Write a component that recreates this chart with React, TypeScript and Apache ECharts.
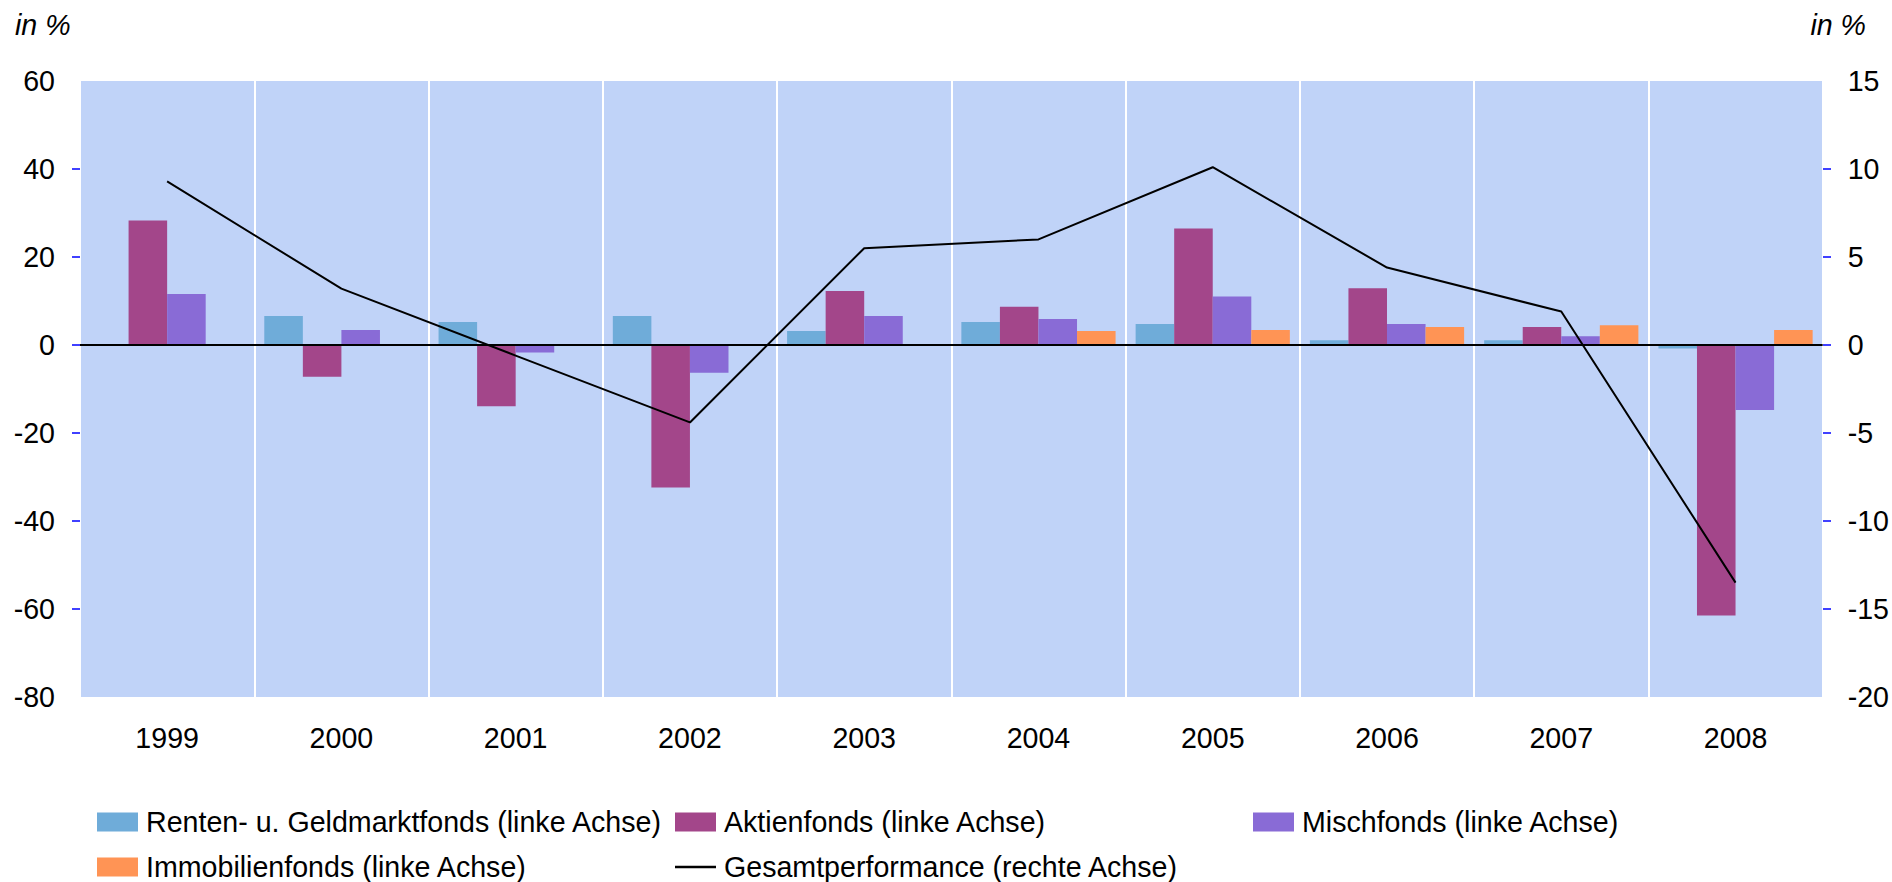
import React, { useEffect, useRef } from "react";
import * as echarts from "echarts";

const categories = ["1999", "2000", "2001", "2002", "2003", "2004", "2005", "2006", "2007", "2008"];
const renten = [null, 6.6, 5.2, 6.6, 3.2, 5.2, 4.8, 1.1, 1.1, -0.8];
const aktien = [28.3, -7.2, -13.9, -32.4, 12.3, 8.7, 26.5, 12.9, 4.1, -61.5];
const misch = [11.6, 3.4, -1.7, -6.3, 6.6, 5.9, 11.0, 4.8, 2.0, -14.8];
const immo = [null, null, null, null, null, 3.2, 3.4, 4.1, 4.5, 3.4];
const gesamt = [9.3, 3.2, -0.6, -4.4, 5.5, 6.0, 10.1, 4.4, 1.9, -13.5];

const names = [
  "Renten- u. Geldmarktfonds (linke Achse)",
  "Aktienfonds (linke Achse)",
  "Mischfonds (linke Achse)",
  "Immobilienfonds (linke Achse)",
  "Gesamtperformance (rechte Achse)",
];
const colors = ["#6FACD9", "#A3468A", "#896BD6", "#FF9455", "#000000"];

const FONT = "'Liberation Sans', Arial, sans-serif";
const FS = 28.6;

// axis ranges
const L_MIN = -80, L_MAX = 60, L_INT = 20;
const R_MIN = -20, R_MAX = 15, R_INT = 5;

export default function App() {
  const ref = useRef<HTMLDivElement>(null);
  useEffect(() => {
    if (!ref.current) return;
    const chart = echarts.init(ref.current, null, { renderer: "svg" });
    const G_TOP = 81, G_BOTTOM = 185, G_LEFT = 80, G_RIGHT = 69;
    const plotH = 882 - G_TOP - G_BOTTOM;
    const step = (plotH * L_INT) / (L_MAX - L_MIN);
    const legendPos = [
      [97, 822],
      [675, 822],
      [1253, 822],
      [97, 867],
      [675, 867],
    ];
    const legends = names.map((n, i) => ({
      show: true,
      data: [n],
      left: legendPos[i][0],
      top: legendPos[i][1] - 15,
      padding: 0,
      itemWidth: 41,
      itemHeight: i === 4 ? 2.5 : 19,
      icon: "rect",
      selectedMode: false,
      textStyle: { fontFamily: FONT, fontSize: FS, color: "#000", lineHeight: 30, padding: [0, 0, 0, 3] },
    }));
    const barSeries = [renten, aktien, misch, immo].map((d, i) => ({
      name: names[i],
      type: "bar",
      xAxisIndex: 0,
      yAxisIndex: 0,
      data: d,
      barGap: "0%",
      barCategoryGap: "11.5%",
      itemStyle: { color: colors[i] },
      ...(i === 0
        ? {
            markLine: {
              silent: true,
              symbol: "none",
              label: { show: false },
              lineStyle: { color: "#000", width: 2, type: "solid" },
              data: [{ yAxis: 0 }],
              z: 10,
            },
          }
        : {}),
    }));
    const tickAxis = (gridIndex: number, min: number, max: number, interval: number, position: string) => ({
      type: "value",
      gridIndex,
      min,
      max,
      interval,
      position,
      axisLine: { show: false },
      axisTick: { show: true, length: 8, lineStyle: { color: "#0000ff", width: 1.5 } },
      axisLabel: { show: false },
      splitLine: { show: false },
    });
    chart.setOption({
      animation: false,
      color: colors,
      textStyle: { fontFamily: FONT },
      grid: [
        {
          left: G_LEFT,
          right: G_RIGHT,
          top: G_TOP,
          bottom: G_BOTTOM,
          show: true,
          backgroundColor: "#C0D3F8",
          borderWidth: 0,
          containLabel: false,
        },
        {
          left: G_LEFT,
          right: G_RIGHT,
          top: G_TOP + step,
          bottom: G_BOTTOM + step,
          show: false,
          containLabel: false,
        },
      ],
      legend: legends,
      graphic: [
        {
          type: "text",
          left: 15,
          top: 10,
          style: { text: "in %", font: `italic ${FS}px ${FONT}`, fill: "#000" },
        },
        {
          type: "text",
          right: 1892 - 1866,
          top: 10,
          style: { text: "in %", font: `italic ${FS}px ${FONT}`, fill: "#000" },
        },
      ],
      xAxis: [
        {
          type: "category",
          gridIndex: 0,
          data: categories,
          boundaryGap: true,
          axisLine: { show: false },
          axisTick: { show: false },
          axisLabel: { color: "#000", fontSize: FS, fontFamily: FONT, margin: 26 },
          splitLine: { show: true, lineStyle: { color: "#ffffff", width: 2 } },
        },
        {
          type: "category",
          gridIndex: 1,
          data: categories,
          show: false,
        },
      ],
      yAxis: [
        {
          type: "value",
          gridIndex: 0,
          min: L_MIN,
          max: L_MAX,
          interval: L_INT,
          position: "left",
          axisLine: { show: false },
          axisTick: { show: false },
          axisLabel: { color: "#000", fontSize: FS, fontFamily: FONT, margin: 25 },
          splitLine: { show: false },
        },
        {
          type: "value",
          gridIndex: 0,
          min: R_MIN,
          max: R_MAX,
          interval: R_INT,
          position: "right",
          axisLine: { show: false },
          axisTick: { show: false },
          axisLabel: { color: "#000", fontSize: FS, fontFamily: FONT, margin: 25 },
          splitLine: { show: false },
        },
        tickAxis(1, L_MIN + L_INT, L_MAX - L_INT, L_INT, "left"),
        tickAxis(1, R_MIN + R_INT, R_MAX - R_INT, R_INT, "right"),
      ],
      series: [
        ...barSeries,
        {
          name: names[4],
          type: "line",
          xAxisIndex: 0,
          yAxisIndex: 1,
          data: gesamt,
          symbol: "none",
          showSymbol: false,
          z: 12,
          lineStyle: { color: "#000", width: 2 },
          itemStyle: { color: "#000" },
        },
      ],
    });
    return () => chart.dispose();
  }, []);
  return (
    <div
      ref={ref}
      style={{ position: "fixed", left: 0, top: 0, width: 1892, height: 882, background: "#fff" }}
    />
  );
}
